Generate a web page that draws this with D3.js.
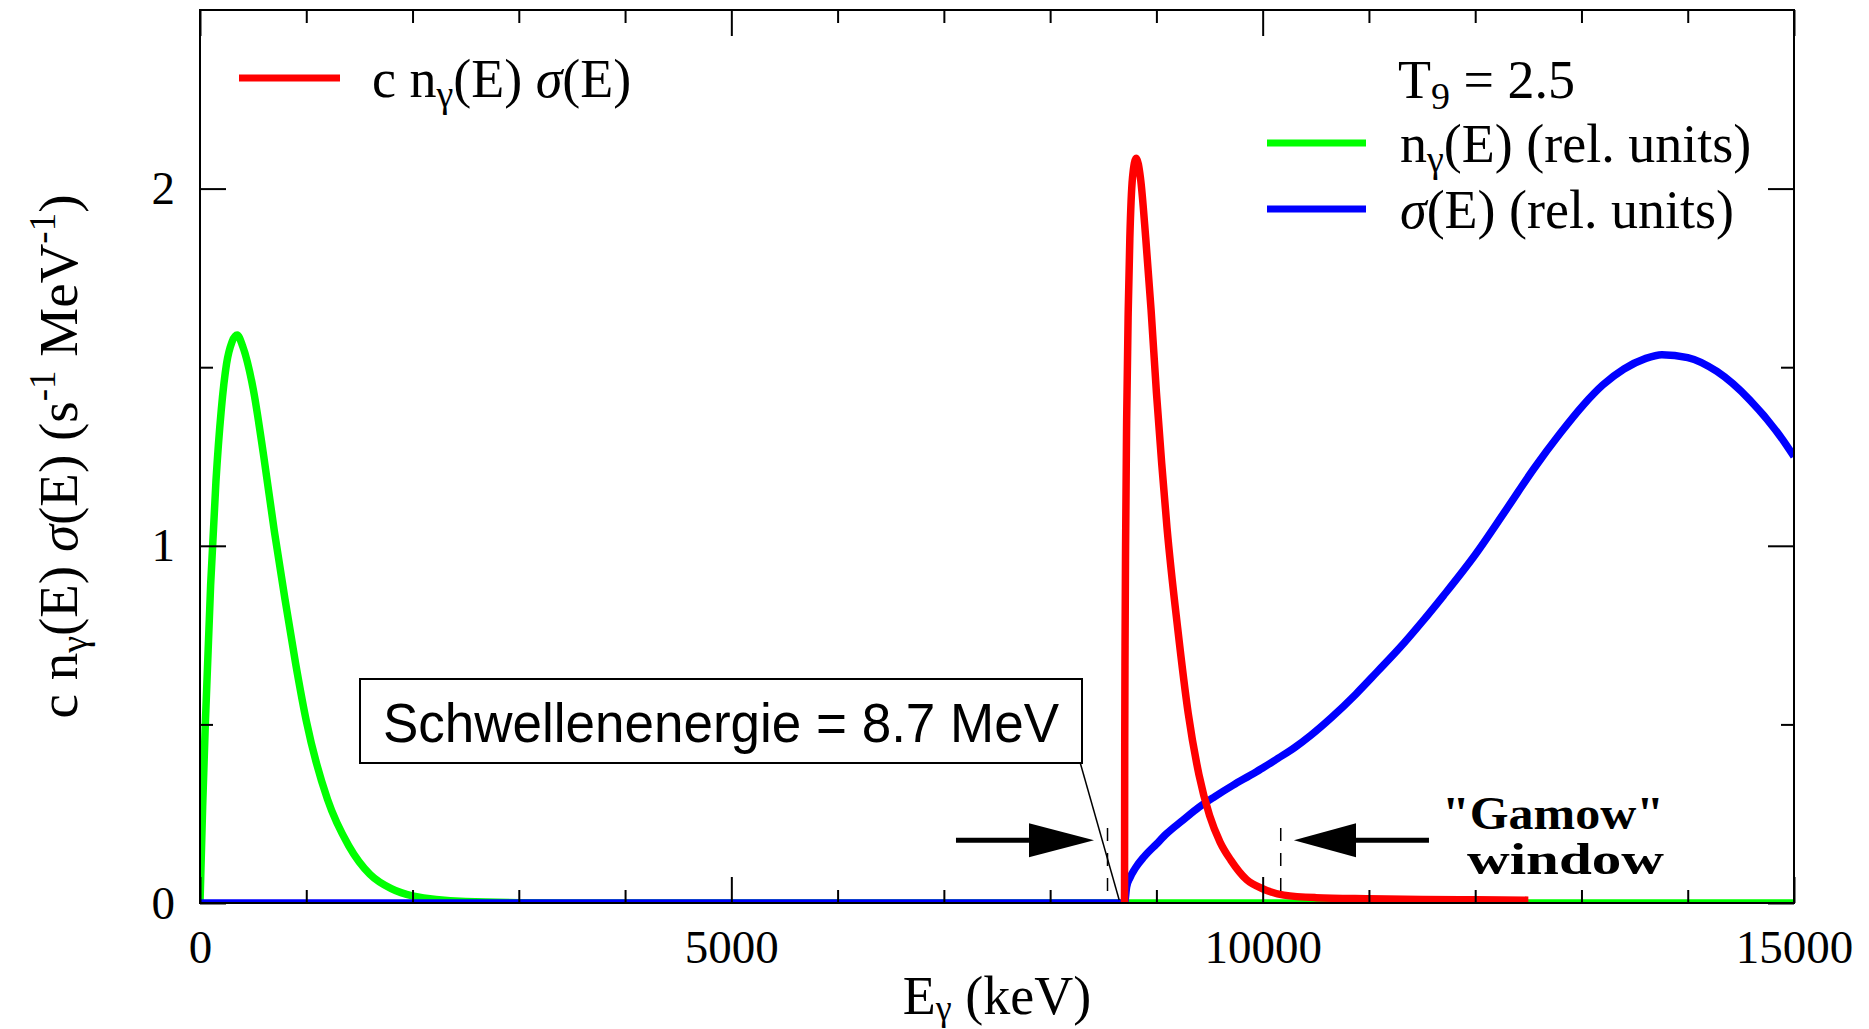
<!DOCTYPE html>
<html>
<head>
<meta charset="utf-8">
<script src="https://cdn.jsdelivr.net/npm/d3@7"></script>
<style>
  html, body { margin: 0; padding: 0; background: #fff; }
  svg { display: block; font-family: "Liberation Serif", "Times New Roman", serif; }
</style>
</head>
<body>
<svg id="chart" width="1869" height="1029"></svg>
<script>
// Photon number density n_gamma(E) at T9 = 2.5 (relative units)
const photonE = [0, 25, 50, 100, 150, 200, 250, 300, 350, 400, 500, 600, 700, 800, 900, 1000, 1200, 1400, 1600, 1800, 2000, 2500, 3000, 4000, 15000];
const photonN = [0, 0.27, 0.50, 0.89, 1.18, 1.38, 1.51, 1.57, 1.59, 1.56, 1.44, 1.25, 1.04, 0.85, 0.67, 0.51, 0.29, 0.16, 0.08, 0.04, 0.02, 0.004, 0.001, 0, 0];

// Photodisintegration cross section sigma(E) (relative units), threshold 8.7 MeV
const sigmaE = [0, 8700, 8720, 8750, 8800, 8885, 9000, 9100, 9250, 9400, 9550, 9723, 9880, 10000, 10143, 10300, 10455, 10650, 10878, 11080, 11292, 11500, 11700, 12000, 12300, 12550, 12800, 13014, 13200, 13400, 13600, 13757, 14000, 14275, 14585, 14896, 15000];
const sigmaV = [0, 0, 0.045, 0.07, 0.097, 0.13, 0.165, 0.195, 0.232, 0.268, 0.298, 0.33, 0.357, 0.378, 0.405, 0.435, 0.47, 0.52, 0.585, 0.648, 0.715, 0.787, 0.86, 0.975, 1.105, 1.215, 1.315, 1.393, 1.45, 1.495, 1.524, 1.535, 1.527, 1.488, 1.408, 1.296, 1.25];

// Rate integrand c n_gamma(E) sigma(E) in s^-1 MeV^-1
const rateE = [8700, 8702, 8705, 8710, 8720, 8735, 8750, 8775, 8810, 8850, 8900, 8950, 9000, 9050, 9100, 9200, 9300, 9400, 9500, 9600, 9700, 9850, 10000, 10200, 10500, 11000, 11500, 12000, 12500];
const rateV = [0, 0.45, 0.72, 1.0, 1.35, 1.66, 1.86, 2.03, 2.085, 2.03, 1.86, 1.66, 1.43, 1.23, 1.05, 0.77, 0.53, 0.36, 0.245, 0.17, 0.12, 0.065, 0.04, 0.022, 0.015, 0.012, 0.01, 0.009, 0.008];

// Axis ticks
const xTicksMajor = [0, 5000, 10000, 15000];
const xTicksMinor = [1000, 2000, 3000, 4000, 6000, 7000, 8000, 9000, 11000, 12000, 13000, 14000];
const yTicksMajor = [0, 1, 2];
const yTicksMinor = [0.5, 1.5];

// Annotations
const thresholdLabel = "Schwellenenergie = 8.7 MeV";
const thresholdPoint = [8650, 0];
const gamowWindow = [8540, 10170];
const gamowDashRange = [0.015, 0.21];
const arrowLevel = 0.176;
const leftArrow = [7114, 7801, 8413];    // shaft start, head base, tip
const rightArrow = [11565, 10878, 10294];

const serif = '"Liberation Serif", "Times New Roman", serif';
const sans = '"Liberation Sans", Arial, sans-serif';

const svg = d3.select("#chart");
const W = 1869, H = 1029;
const plot = { left: 200, right: 1794, top: 10, bottom: 903 };

const x = d3.scaleLinear().domain([0, 15000]).range([plot.left, plot.right]);
const y = d3.scaleLinear().domain([0, 2.5]).range([plot.bottom, plot.top]);

svg.append("rect").attr("width", W).attr("height", H).attr("fill", "#fff");

svg.append("defs").append("clipPath").attr("id", "plotClip")
  .append("rect")
  .attr("x", plot.left).attr("y", plot.top)
  .attr("width", plot.right - plot.left).attr("height", plot.bottom - plot.top);

const line = d3.line().x(d => x(d[0])).y(d => y(d[1])).curve(d3.curveMonotoneX);
const curves = svg.append("g").attr("clip-path", "url(#plotClip)");

function drawCurve(es, vs, color) {
  curves.append("path")
    .datum(es.map((e, i) => [e, vs[i]]))
    .attr("d", line)
    .attr("fill", "none")
    .attr("stroke", color)
    .attr("stroke-width", 7.5)
    .attr("stroke-linejoin", "round");
}
drawCurve(photonE, photonN, "#00ff00");
drawCurve(sigmaE, sigmaV, "#0000ff");
drawCurve(rateE, rateV, "#ff0000");

// Frame and ticks (inward)
function styleAxis(g) {
  g.select(".domain").remove();
  g.selectAll(".tick line").attr("stroke", "#000").attr("stroke-width", 2);
  g.selectAll("text")
    .style("font-family", serif)
    .style("font-size", "47px")
    .attr("fill", "#000");
}
const axes = svg.append("g");
axes.append("g").attr("transform", `translate(0,${plot.bottom})`)
  .call(d3.axisBottom(x).tickValues(xTicksMajor).tickSize(-26).tickPadding(27).tickFormat(d3.format("d")))
  .call(styleAxis);
axes.append("g").attr("transform", `translate(0,${plot.bottom})`)
  .call(d3.axisBottom(x).tickValues(xTicksMinor).tickSize(-13).tickFormat(""))
  .call(styleAxis);
axes.append("g").attr("transform", `translate(0,${plot.top})`)
  .call(d3.axisTop(x).tickValues(xTicksMajor).tickSize(-26).tickFormat(""))
  .call(styleAxis);
axes.append("g").attr("transform", `translate(0,${plot.top})`)
  .call(d3.axisTop(x).tickValues(xTicksMinor).tickSize(-13).tickFormat(""))
  .call(styleAxis);
axes.append("g").attr("transform", `translate(${plot.left},0)`)
  .call(d3.axisLeft(y).tickValues(yTicksMajor).tickSize(-26).tickPadding(25).tickFormat(d3.format("d")))
  .call(styleAxis);
axes.append("g").attr("transform", `translate(${plot.left},0)`)
  .call(d3.axisLeft(y).tickValues(yTicksMinor).tickSize(-13).tickFormat(""))
  .call(styleAxis);
axes.append("g").attr("transform", `translate(${plot.right},0)`)
  .call(d3.axisRight(y).tickValues(yTicksMajor).tickSize(-26).tickFormat(""))
  .call(styleAxis);
axes.append("g").attr("transform", `translate(${plot.right},0)`)
  .call(d3.axisRight(y).tickValues(yTicksMinor).tickSize(-13).tickFormat(""))
  .call(styleAxis);

axes.append("rect")
  .attr("x", plot.left).attr("y", plot.top)
  .attr("width", plot.right - plot.left).attr("height", plot.bottom - plot.top)
  .attr("fill", "none").attr("stroke", "#000").attr("stroke-width", 2);

// Axis titles
const xTitle = svg.append("text")
  .attr("x", (plot.left + plot.right) / 2).attr("y", 1014)
  .attr("text-anchor", "middle").style("font-size", "54px");
xTitle.append("tspan").text("E");
xTitle.append("tspan").style("font-size", "36px").attr("dy", 6).text("γ");
xTitle.append("tspan").attr("dy", -6).text(" (keV)");

const yTitle = svg.append("text")
  .attr("transform", `translate(77,${(plot.top + plot.bottom) / 2}) rotate(-90)`)
  .attr("text-anchor", "middle").style("font-size", "55px");
yTitle.append("tspan").text("c n");
yTitle.append("tspan").style("font-size", "38px").attr("dy", 10).text("γ");
yTitle.append("tspan").attr("dy", -10).text("(E) ");
yTitle.append("tspan").style("font-style", "italic").text("σ");
yTitle.append("tspan").text("(E) (s");
yTitle.append("tspan").style("font-size", "37px").attr("dy", -22).text("-1");
yTitle.append("tspan").attr("dy", 22).text(" MeV");
yTitle.append("tspan").style("font-size", "37px").attr("dy", -22).text("-1");
yTitle.append("tspan").attr("dy", 22).text(")");

// Legend
const legend = svg.append("g");
legend.append("line").attr("x1", 239).attr("x2", 340).attr("y1", 78).attr("y2", 78)
  .attr("stroke", "#ff0000").attr("stroke-width", 7);
const l1 = legend.append("text").attr("x", 372).attr("y", 97).style("font-size", "54px");
l1.append("tspan").text("c n");
l1.append("tspan").style("font-size", "38px").attr("dy", 10).text("γ");
l1.append("tspan").attr("dy", -10).text("(E) ");
l1.append("tspan").style("font-style", "italic").text("σ");
l1.append("tspan").text("(E)");

const t9 = legend.append("text").attr("x", 1398).attr("y", 98).style("font-size", "54px");
t9.append("tspan").text("T");
t9.append("tspan").style("font-size", "38px").attr("dy", 11).text("9");
t9.append("tspan").attr("dy", -11).text(" = 2.5");

legend.append("line").attr("x1", 1267).attr("x2", 1366).attr("y1", 143).attr("y2", 143)
  .attr("stroke", "#00ff00").attr("stroke-width", 7);
const l2 = legend.append("text").attr("x", 1400).attr("y", 162).style("font-size", "54px");
l2.append("tspan").text("n");
l2.append("tspan").style("font-size", "38px").attr("dy", 10).text("γ");
l2.append("tspan").attr("dy", -10).text("(E) (rel. units)");

legend.append("line").attr("x1", 1267).attr("x2", 1366).attr("y1", 209).attr("y2", 209)
  .attr("stroke", "#0000ff").attr("stroke-width", 7);
const l3 = legend.append("text").attr("x", 1400).attr("y", 228).style("font-size", "54px");
l3.append("tspan").style("font-style", "italic").text("σ");
l3.append("tspan").text("(E) (rel. units)");

// Threshold annotation box with connector
const ann = svg.append("g");
ann.append("line")
  .attr("x1", 1080).attr("y1", 762)
  .attr("x2", x(thresholdPoint[0])).attr("y2", y(thresholdPoint[1]) - 3)
  .attr("stroke", "#000").attr("stroke-width", 1.5);
ann.append("rect")
  .attr("x", 360).attr("y", 679).attr("width", 722).attr("height", 84)
  .attr("fill", "#fff").attr("stroke", "#000").attr("stroke-width", 2);
ann.append("text")
  .attr("x", 383).attr("y", 742)
  .style("font-family", sans)
  .style("font-size", "55px")
  .attr("textLength", 676).attr("lengthAdjust", "spacingAndGlyphs")
  .text(thresholdLabel);

// Gamow window markers
gamowWindow.forEach(e => {
  ann.append("line")
    .attr("x1", x(e)).attr("x2", x(e))
    .attr("y1", y(gamowDashRange[1])).attr("y2", y(gamowDashRange[0]))
    .attr("stroke", "#000").attr("stroke-width", 1.5)
    .attr("stroke-dasharray", "13,12");
});

function arrow(a) {
  const yy = y(arrowLevel);
  ann.append("line")
    .attr("x1", x(a[0])).attr("x2", x(a[1])).attr("y1", yy).attr("y2", yy)
    .attr("stroke", "#000").attr("stroke-width", 5);
  ann.append("path")
    .attr("d", `M${x(a[1])},${yy - 17} L${x(a[2])},${yy} L${x(a[1])},${yy + 17} Z`)
    .attr("fill", "#000");
}
arrow(leftArrow);
arrow(rightArrow);

ann.append("text")
  .attr("x", 1664).attr("y", 829).attr("text-anchor", "end")
  .style("font-size", "46px").style("font-weight", "bold")
  .attr("textLength", 222).attr("lengthAdjust", "spacingAndGlyphs")
  .text("\"Gamow\"");
ann.append("text")
  .attr("x", 1664).attr("y", 874).attr("text-anchor", "end")
  .style("font-size", "44px").style("font-weight", "bold")
  .attr("textLength", 197).attr("lengthAdjust", "spacingAndGlyphs")
  .text("window");
</script>
</body>
</html>
